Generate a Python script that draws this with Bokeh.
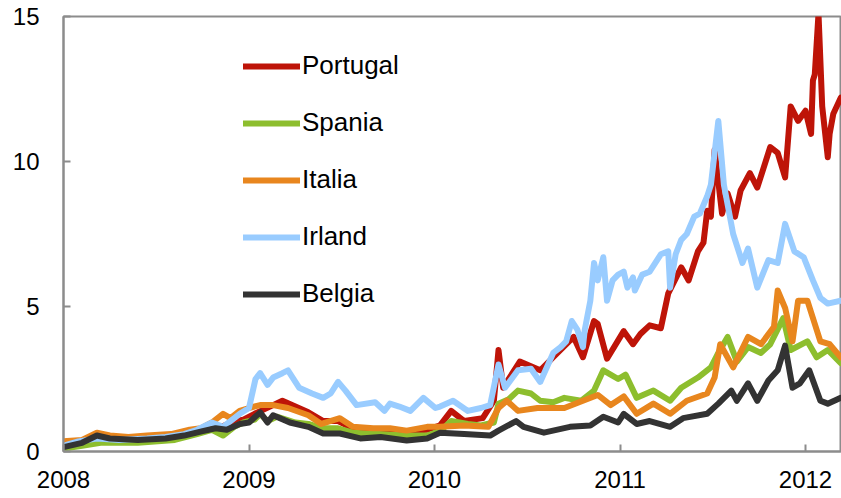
from bokeh.plotting import figure
from bokeh.models import FixedTicker, Range1d
from bokeh.embed import file_html
from bokeh.resources import INLINE

# ---- data (decimal year, spread in percentage points) ----
portugal_t = [2008.00, 2008.18, 2008.40, 2008.60, 2008.75, 2008.85, 2008.93, 2008.97, 2009.03, 2009.13,
              2009.18, 2009.25, 2009.32, 2009.40, 2009.48, 2009.56, 2009.70, 2009.85, 2009.96, 2010.03,
              2010.09, 2010.16, 2010.26, 2010.32, 2010.345, 2010.37, 2010.46, 2010.57, 2010.64, 2010.75,
              2010.80, 2010.86, 2010.88, 2010.93, 2011.02, 2011.07, 2011.11, 2011.16, 2011.22, 2011.26,
              2011.33, 2011.37, 2011.42, 2011.45, 2011.47, 2011.49, 2011.51, 2011.55, 2011.58, 2011.62,
              2011.65, 2011.70, 2011.74, 2011.81, 2011.85, 2011.89, 2011.92, 2011.96, 2012.00, 2012.03,
              2012.04, 2012.05, 2012.07, 2012.09, 2012.12, 2012.13, 2012.15, 2012.19]
portugal_v = [0.25, 0.45, 0.40, 0.50, 0.75, 0.85, 1.05, 1.10, 1.30, 1.60,
              1.75, 1.55, 1.35, 1.05, 1.05, 0.80, 0.75, 0.70, 0.75, 0.90,
              1.40, 1.05, 1.15, 1.75, 3.50, 2.20, 3.10, 2.80, 3.25, 3.95,
              3.25, 4.50, 4.40, 3.20, 4.15, 3.70, 4.05, 4.35, 4.25, 5.45,
              6.35, 5.90, 6.90, 7.20, 8.30, 8.10, 10.40, 8.20, 8.90, 8.10,
              9.00, 9.60, 9.10, 10.50, 10.30, 9.45, 11.90, 11.40, 11.75, 10.95,
              12.80, 13.00, 15.10, 11.90, 10.15, 10.95, 11.65, 12.20]

spania_t = [2008.00, 2008.10, 2008.20, 2008.40, 2008.60, 2008.72, 2008.80, 2008.86, 2008.92, 2008.97,
            2009.03, 2009.06, 2009.10, 2009.15, 2009.25, 2009.32, 2009.40, 2009.48, 2009.56, 2009.70,
            2009.85, 2009.96, 2010.03, 2010.09, 2010.18, 2010.25, 2010.32, 2010.345, 2010.40, 2010.45,
            2010.52, 2010.57, 2010.64, 2010.70, 2010.79, 2010.86, 2010.91, 2010.99, 2011.03, 2011.09,
            2011.18, 2011.27, 2011.33, 2011.42, 2011.49, 2011.53, 2011.58, 2011.63, 2011.69, 2011.76,
            2011.81, 2011.88, 2011.92, 2012.01, 2012.06, 2012.12, 2012.19]
spania_v = [0.10, 0.20, 0.30, 0.30, 0.40, 0.60, 0.75, 0.55, 0.85, 1.00,
            1.10, 1.30, 1.05, 1.20, 1.00, 0.95, 0.80, 0.80, 0.65, 0.60,
            0.55, 0.55, 0.70, 1.05, 0.95, 0.90, 1.00, 1.65, 1.80, 2.10,
            2.00, 1.75, 1.70, 1.85, 1.75, 2.10, 2.80, 2.50, 2.65, 1.85,
            2.10, 1.75, 2.20, 2.55, 2.90, 3.40, 3.95, 3.10, 3.60, 3.40,
            3.70, 4.60, 3.50, 3.80, 3.25, 3.50, 3.05]

italia_t = [2008.00, 2008.10, 2008.18, 2008.25, 2008.35, 2008.45, 2008.58, 2008.68, 2008.74, 2008.80,
            2008.86, 2008.90, 2008.95, 2009.00, 2009.06, 2009.13, 2009.21, 2009.32, 2009.39, 2009.49,
            2009.56, 2009.67, 2009.76, 2009.85, 2009.96, 2010.03, 2010.16, 2010.29, 2010.345, 2010.39,
            2010.45, 2010.555, 2010.70, 2010.88, 2010.95, 2011.02, 2011.09, 2011.18, 2011.27, 2011.36,
            2011.47, 2011.51, 2011.54, 2011.61, 2011.69, 2011.76, 2011.83, 2011.85, 2011.89, 2011.93,
            2011.96, 2012.01, 2012.08, 2012.13, 2012.19]
italia_v = [0.35, 0.40, 0.65, 0.55, 0.50, 0.55, 0.60, 0.75, 0.80, 1.00,
            1.30, 1.15, 1.40, 1.50, 1.60, 1.60, 1.50, 1.25, 0.95, 1.15,
            0.85, 0.80, 0.80, 0.72, 0.85, 0.85, 0.90, 0.85, 1.50, 1.75,
            1.40, 1.50, 1.50, 1.95, 1.60, 1.90, 1.30, 1.65, 1.30, 1.75,
            2.00, 2.55, 3.70, 2.90, 3.95, 3.70, 4.30, 5.55, 4.95, 3.80,
            5.20, 5.20, 3.80, 3.70, 3.25]

irland_t = [2008.00, 2008.08, 2008.18, 2008.30, 2008.45, 2008.55, 2008.65, 2008.72, 2008.80, 2008.86,
            2008.90, 2008.95, 2009.00, 2009.035, 2009.06, 2009.10, 2009.13, 2009.18, 2009.21, 2009.27,
            2009.34, 2009.40, 2009.44, 2009.48, 2009.52, 2009.58, 2009.68, 2009.73, 2009.76, 2009.81,
            2009.87, 2009.94, 2010.005, 2010.03, 2010.10, 2010.18, 2010.25, 2010.30, 2010.345, 2010.38,
            2010.45, 2010.52, 2010.57, 2010.64, 2010.68, 2010.71, 2010.74, 2010.77, 2010.80, 2010.81,
            2010.84, 2010.86, 2010.88, 2010.91, 2010.93, 2010.96, 2010.99, 2011.02, 2011.04, 2011.07,
            2011.08, 2011.12, 2011.16, 2011.22, 2011.26, 2011.27, 2011.30, 2011.33, 2011.36, 2011.40,
            2011.43, 2011.47, 2011.49, 2011.53, 2011.56, 2011.61, 2011.66, 2011.69, 2011.74, 2011.80,
            2011.85, 2011.89, 2011.94, 2011.99, 2012.04, 2012.08, 2012.12, 2012.19]
irland_v = [0.20, 0.35, 0.45, 0.40, 0.45, 0.50, 0.60, 0.75, 1.00, 0.85,
            1.05, 1.30, 1.50, 2.50, 2.70, 2.30, 2.55, 2.70, 2.80, 2.20,
            2.00, 1.85, 2.00, 2.40, 2.10, 1.60, 1.70, 1.40, 1.65, 1.55,
            1.40, 1.85, 1.50, 1.55, 1.75, 1.40, 1.50, 1.60, 3.00, 2.20,
            2.80, 2.85, 2.40, 3.40, 3.60, 3.80, 4.50, 4.20, 3.60, 4.20,
            5.20, 6.50, 5.90, 6.70, 5.20, 5.90, 6.10, 6.20, 5.65, 6.00,
            5.55, 6.10, 6.20, 6.80, 6.90, 5.65, 6.80, 7.30, 7.50, 8.10,
            8.20, 8.80, 9.20, 11.40, 9.20, 7.50, 6.50, 7.00, 5.65, 6.60,
            6.50, 7.85, 6.90, 6.70, 5.90, 5.30, 5.10, 5.20]

belgia_t = [2008.00, 2008.10, 2008.18, 2008.25, 2008.40, 2008.55, 2008.65, 2008.75, 2008.82, 2008.88,
            2008.95, 2009.00, 2009.06, 2009.10, 2009.13, 2009.22, 2009.32, 2009.40, 2009.49, 2009.60,
            2009.71, 2009.85, 2009.96, 2010.03, 2010.16, 2010.30, 2010.345, 2010.44, 2010.48, 2010.59,
            2010.73, 2010.84, 2010.91, 2010.99, 2011.02, 2011.09, 2011.16, 2011.27, 2011.34, 2011.47,
            2011.53, 2011.60, 2011.63, 2011.69, 2011.74, 2011.80, 2011.85, 2011.89, 2011.93, 2011.97,
            2012.02, 2012.08, 2012.12, 2012.19]
belgia_v = [0.15, 0.30, 0.55, 0.45, 0.40, 0.45, 0.55, 0.70, 0.80, 0.75,
            0.95, 1.00, 1.35, 1.00, 1.25, 1.00, 0.85, 0.62, 0.62, 0.45,
            0.50, 0.38, 0.45, 0.65, 0.60, 0.55, 0.72, 1.05, 0.85, 0.65,
            0.85, 0.90, 1.20, 1.00, 1.30, 0.95, 1.05, 0.85, 1.15, 1.30,
            1.65, 2.10, 1.75, 2.35, 1.75, 2.45, 2.80, 3.65, 2.20, 2.35,
            2.80, 1.75, 1.65, 1.85]

series_names = ["Portugal", "Spania", "Italia", "Irland", "Belgia"]
series_colors = ["#BE1408", "#8DBE2E", "#E8861E", "#99CCFF", "#333333"]
series_t = [portugal_t, spania_t, italia_t, irland_t, belgia_t]
series_v = [portugal_v, spania_v, italia_v, irland_v, belgia_v]

x_ticks = [2008, 2009, 2010, 2011, 2012]
x_tick_labels = ["2008", "2009", "2010", "2011", "2012"]
y_ticks = [0, 5, 10, 15]

FONT = "Liberation Sans"
AXIS_COLOR = "#8C8C8C"

p = figure(width=841, height=498, output_backend="svg", toolbar_location=None,
           x_range=Range1d(2008.0, 2012.194), y_range=Range1d(0, 15),
           min_border_left=63, min_border_right=0, min_border_top=16, min_border_bottom=47)

for name, color, t, v in zip(series_names, series_colors, series_t, series_v):
    p.line(t, v, line_color=color, line_width=6, line_cap="round", line_join="round",
           legend_label=name)

p.grid.visible = False
p.outline_line_color = AXIS_COLOR
p.outline_line_width = 2
p.background_fill_color = "white"
p.border_fill_color = "white"

for ax in (p.xaxis[0], p.yaxis[0]):
    ax.axis_line_color = AXIS_COLOR
    ax.axis_line_width = 2
    ax.major_tick_line_color = AXIS_COLOR
    ax.major_tick_line_width = 2
    ax.major_tick_in = 7
    ax.major_tick_out = 0
    ax.minor_tick_line_color = None
    ax.major_label_text_font = FONT
    ax.major_label_text_font_size = "24px"
    ax.major_label_text_color = "black"

p.xaxis.ticker = FixedTicker(ticks=x_ticks)
p.xaxis.major_label_overrides = dict(zip(x_ticks, x_tick_labels))
p.xaxis.major_label_standoff = 19
p.yaxis.ticker = FixedTicker(ticks=y_ticks)
p.yaxis.major_label_standoff = 24

lg = p.legend[0]
lg.location = (180, 142)
lg.label_text_font = FONT
lg.label_text_font_size = "26px"
lg.label_text_color = "black"
lg.glyph_width = 57
lg.glyph_height = 20
lg.label_height = 20
lg.label_standoff = 2
lg.spacing = 26
lg.padding = 0
lg.margin = 0
lg.border_line_color = None
lg.background_fill_alpha = 0

open("out.html", "w").write(file_html(p, INLINE))
